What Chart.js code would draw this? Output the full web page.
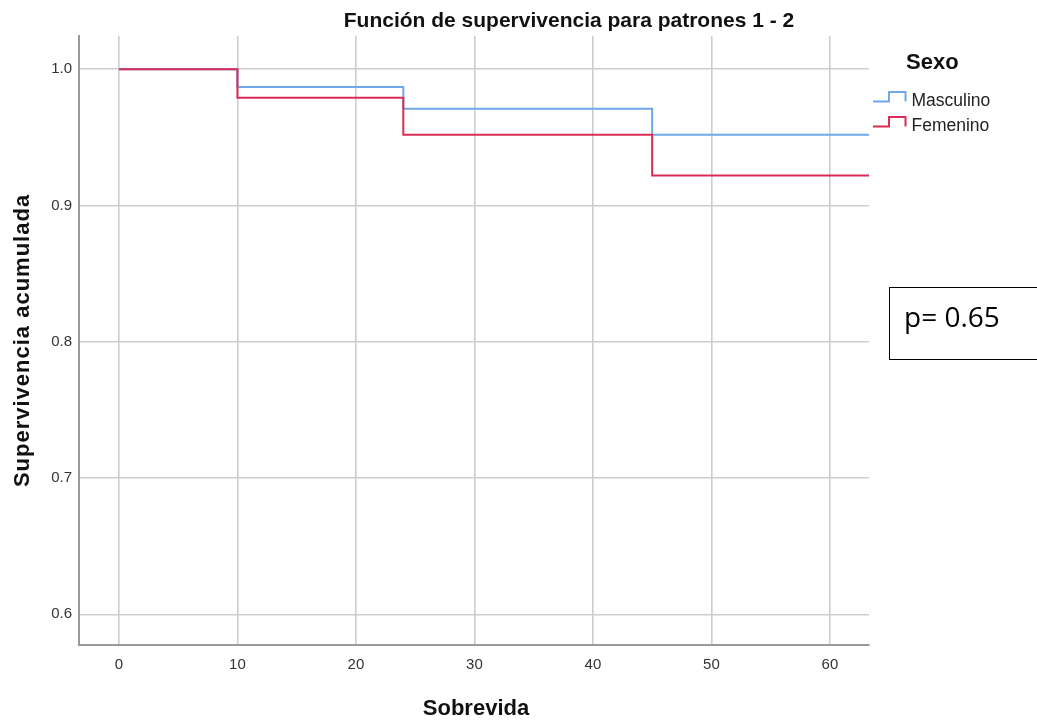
<!DOCTYPE html>
<html lang="es">
<head>
<meta charset="utf-8">
<title>Función de supervivencia para patrones 1 - 2</title>
<script src="https://cdn.jsdelivr.net/npm/chart.js@4.4.1/dist/chart.umd.min.js"></script>
<style>
  html, body { margin: 0; padding: 0; background: #ffffff; }
  #wrap { width: 1037px; height: 721px; position: relative; }
</style>
</head>
<body>
<div id="wrap"><canvas id="km" width="1037" height="721"></canvas></div>
<script>
// Kaplan-Meier step curves: event times (months) and cumulative survival per group
const tiempos = [0, 10, 24, 45, 63.3];
const masculino = [1.0, 0.987, 0.971, 0.952, 0.952];
const femenino = [1.0, 0.979, 0.952, 0.922, 0.922];
const seriesNames = ['Masculino', 'Femenino'];
const xTicks = [0, 10, 20, 30, 40, 50, 60];
const yTicks = [0.6, 0.7, 0.8, 0.9, 1.0];
const pValor = 'p= 0.65';

const BLUE = 'rgb(112,166,234)';
const RED = 'rgb(218,44,84)';
const FONT = "'Liberation Sans', Arial, sans-serif";

const toPoints = ys => tiempos.map((t, i) => ({ x: t, y: ys[i] }));

// Titles, legend and annotation box drawn around the plot area
const decor = {
  id: 'decor',
  afterDraw(chart) {
    const ctx = chart.ctx;
    const a = chart.chartArea;
    ctx.save();
    ctx.fillStyle = '#111';
    ctx.textBaseline = 'alphabetic';

    // chart title
    ctx.font = 'bold 21px ' + FONT;
    ctx.textAlign = 'center';
    ctx.fillText('Función de supervivencia para patrones 1 - 2', 569, 27);

    // x axis title
    ctx.font = 'bold 22px ' + FONT;
    ctx.fillText('Sobrevida', (a.left + a.right) / 2 + 2, 715);

    // y axis title
    ctx.save();
    ctx.translate(29, (a.top + a.bottom) / 2);
    ctx.rotate(-Math.PI / 2);
    ctx.letterSpacing = '1px';
    ctx.fillText('Supervivencia acumulada', 0, 0);
    ctx.restore();

    // legend
    ctx.textAlign = 'left';
    ctx.font = 'bold 22px ' + FONT;
    ctx.fillText('Sexo', 906, 69);
    const items = [
      { name: seriesNames[0], color: BLUE, base: 101.5, text: 105.5 },
      { name: seriesNames[1], color: RED, base: 126.5, text: 131 }
    ];
    ctx.font = '17.5px ' + FONT;
    items.forEach(it => {
      ctx.strokeStyle = it.color;
      ctx.lineWidth = 2;
      ctx.beginPath();
      ctx.moveTo(873, it.base);
      ctx.lineTo(889, it.base);
      ctx.lineTo(889, it.base - 9.5);
      ctx.lineTo(905.5, it.base - 9.5);
      ctx.lineTo(905.5, it.base);
      ctx.stroke();
      ctx.fillStyle = '#222';
      ctx.fillText(it.name, 911.5, it.text);
    });

    // p-value box
    ctx.strokeStyle = '#000';
    ctx.lineWidth = 1;
    ctx.strokeRect(889.5, 287.5, 160, 72);
    ctx.fillStyle = '#000';
    ctx.font = "28px 'Open Sans', sans-serif";
    ctx.fillText(pValor, 904, 327);
    ctx.restore();
  }
};

new Chart(document.getElementById('km'), {
  type: 'line',
  data: {
    datasets: [
      {
        label: seriesNames[0],
        data: toPoints(masculino),
        borderColor: BLUE,
        borderWidth: 2,
        pointRadius: 0,
        stepped: 'before',
        fill: false,
        order: 1
      },
      {
        label: seriesNames[1],
        data: toPoints(femenino),
        borderColor: RED,
        borderWidth: 2,
        pointRadius: 0,
        stepped: 'before',
        fill: false,
        order: 0
      }
    ]
  },
  options: {
    responsive: false,
    animation: false,
    devicePixelRatio: 1,
    layout: { padding: { top: 36, right: 168, left: 0, bottom: 0 } },
    plugins: {
      legend: { display: false },
      title: { display: false },
      tooltip: { enabled: false }
    },
    scales: {
      x: {
        type: 'linear',
        min: -3.37,
        max: 63.3,
        afterFit: s => { s.height = 76; },
        afterBuildTicks: s => { s.ticks = xTicks.map(v => ({ value: v })); },
        grid: { color: '#cdcdcd', lineWidth: 1.6, drawTicks: false },
        border: { display: true, color: '#9a9a9a', width: 2 },
        ticks: {
          padding: 11,
          color: '#333',
          font: { family: FONT, size: 15 },
          callback: v => String(v)
        }
      },
      y: {
        type: 'linear',
        min: 0.5775,
        max: 1.0244,
        afterFit: s => { s.width = 79; },
        afterBuildTicks: s => { s.ticks = yTicks.map(v => ({ value: v })); },
        grid: { color: '#cdcdcd', lineWidth: 1.6, drawTicks: false },
        border: { display: true, color: '#9a9a9a', width: 2 },
        ticks: {
          padding: 7,
          color: '#333',
          font: { family: FONT, size: 15 },
          callback: v => Number(v).toFixed(1)
        }
      }
    }
  },
  plugins: [decor]
});
</script>
</body>
</html>
